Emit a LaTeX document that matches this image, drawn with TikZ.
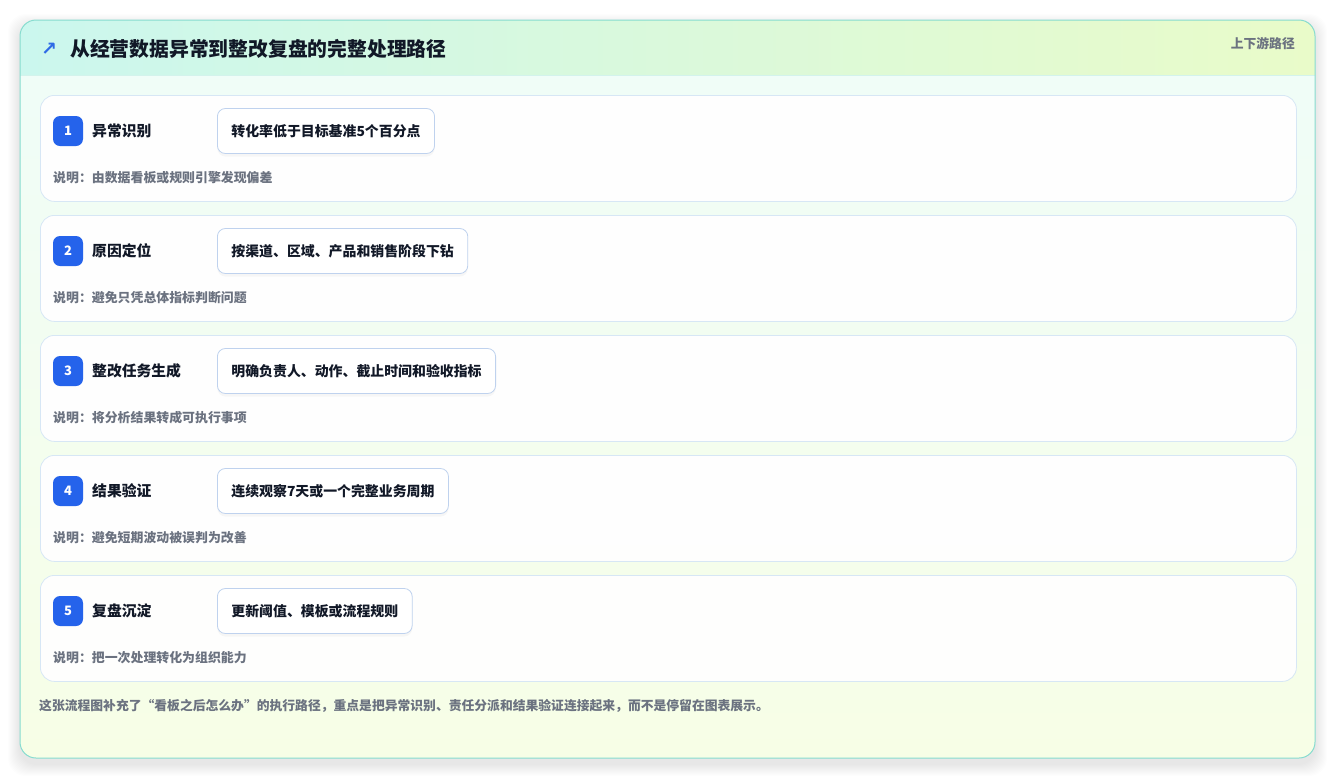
\documentclass[tikz,border=0pt]{standalone}
\usepackage{fontspec}
\setmainfont{Noto Sans CJK SC}
\newfontfamily\symfont{DejaVu Sans}
\usetikzlibrary{shadows}
\definecolor{pagebg}{HTML}{FFFFFF}
\definecolor{cardborder}{HTML}{86DCCF}
\definecolor{headl}{HTML}{CBF7EE}
\definecolor{headr}{HTML}{E9FBC9}
\definecolor{bodytop}{HTML}{EFFDF9}
\definecolor{bodybot}{HTML}{F7FEE6}
\definecolor{sepline}{HTML}{D3F3EC}
\definecolor{rowborder}{HTML}{D7E7F5}
\definecolor{pillborder}{HTML}{BFD2EE}
\definecolor{badgeblue}{HTML}{2563EB}
\definecolor{ink}{HTML}{111827}
\definecolor{muted}{HTML}{6B7280}
\definecolor{arrowblue}{HTML}{2F6BE6}
\begin{document}
\begin{tikzpicture}[x=1pt,y=-1pt,
  rowcard/.style={draw=rowborder, line width=0.8pt, fill=white, fill opacity=0.95, rounded corners=14pt, minimum width=1256pt, minimum height=106pt, anchor=north west, inner sep=0pt},
  badge/.style={fill=badgeblue, rounded corners=7pt, minimum width=30pt, minimum height=30pt, inner sep=0pt, text=white, font=\fontsize{13}{13}\selectfont\bfseries},
  rowtitle/.style={anchor=west, inner sep=0pt, text=ink, font=\fontsize{14.8}{15}\selectfont\bfseries},
  pill/.style={anchor=west, draw=pillborder, line width=0.8pt, fill=white, rounded corners=8pt, minimum height=45pt, inner xsep=14pt, inner ysep=0pt, text=ink, font=\fontsize{13.9}{14}\selectfont\bfseries, drop shadow={opacity=0.06, shadow xshift=0pt, shadow yshift=-3pt}},
  desc/.style={anchor=west, inner sep=0pt, text=muted, font=\fontsize{12.9}{13}\selectfont\bfseries},
]
\useasboundingbox (0,0) rectangle (1336,780);
\fill[pagebg] (0,0) rectangle (1336,780);
% soft card shadow
\foreach \i in {1,...,12}{
  \fill[black, opacity=0.008, rounded corners=18pt] (20-\i,26-\i) rectangle (1315+\i,764+\i);
}
% card body
\begin{scope}
  \clip[rounded corners=16pt] (20,20) rectangle (1315,758);
  \shade[top color=bodytop, bottom color=bodybot] (20,20) rectangle (1315,758);
  \shade[left color=headl, right color=headr] (20,20) rectangle (1315,75);
  \draw[sepline, line width=0.8pt] (20,75) -- (1315,75);
\end{scope}
\draw[cardborder, line width=1pt, rounded corners=16pt] (20,20) rectangle (1315,758);
% header
\node[anchor=west, inner sep=0pt, text=arrowblue, font=\symfont\bfseries\fontsize{19}{19}\selectfont] (arrow) at (41,49) {↗};
\node[anchor=west, inner sep=0pt, text=ink, font=\fontsize{19.8}{20}\selectfont\bfseries] (title) at (70,49) {从经营数据异常到整改复盘的完整处理路径};
\node[anchor=east, inner sep=0pt, text=muted, font=\fontsize{12.8}{13}\selectfont\bfseries] (tag) at (1295,44) {上下游路径};
% rows
\foreach \n/\t/\p/\d [count=\k from 0] in {
  1/异常识别/转化率低于目标基准5个百分点/说明：由数据看板或规则引擎发现偏差,
  2/原因定位/按渠道、区域、产品和销售阶段下钻/说明：避免只凭总体指标判断问题,
  3/整改任务生成/明确负责人、动作、截止时间和验收指标/说明：将分析结果转成可执行事项,
  4/结果验证/连续观察7天或一个完整业务周期/说明：避免短期波动被误判为改善,
  5/复盘沉淀/更新阈值、模板或流程规则/说明：把一次处理转化为组织能力}{
  \pgfmathsetmacro{\top}{95+120*\k}
  \node[rowcard] (row\n) at (40,\top) {};
  \node[badge] (badge\n) at (68,\top+36) {\n};
  \node[rowtitle] (title\n) at (92,\top+36) {\t};
  \node[pill] (pill\n) at (217,\top+36) {\p};
  \node[desc] (desc\n) at (53,\top+83) {\d};
}
\node[anchor=west, inner sep=0pt, text=muted, font=\fontsize{12.8}{13}\selectfont\bfseries] (footer) at (39,706) {这张流程图补充了“看板之后怎么办”的执行路径，重点是把异常识别、责任分派和结果验证连接起来，而不是停留在图表展示。};
\end{tikzpicture}
\end{document}
